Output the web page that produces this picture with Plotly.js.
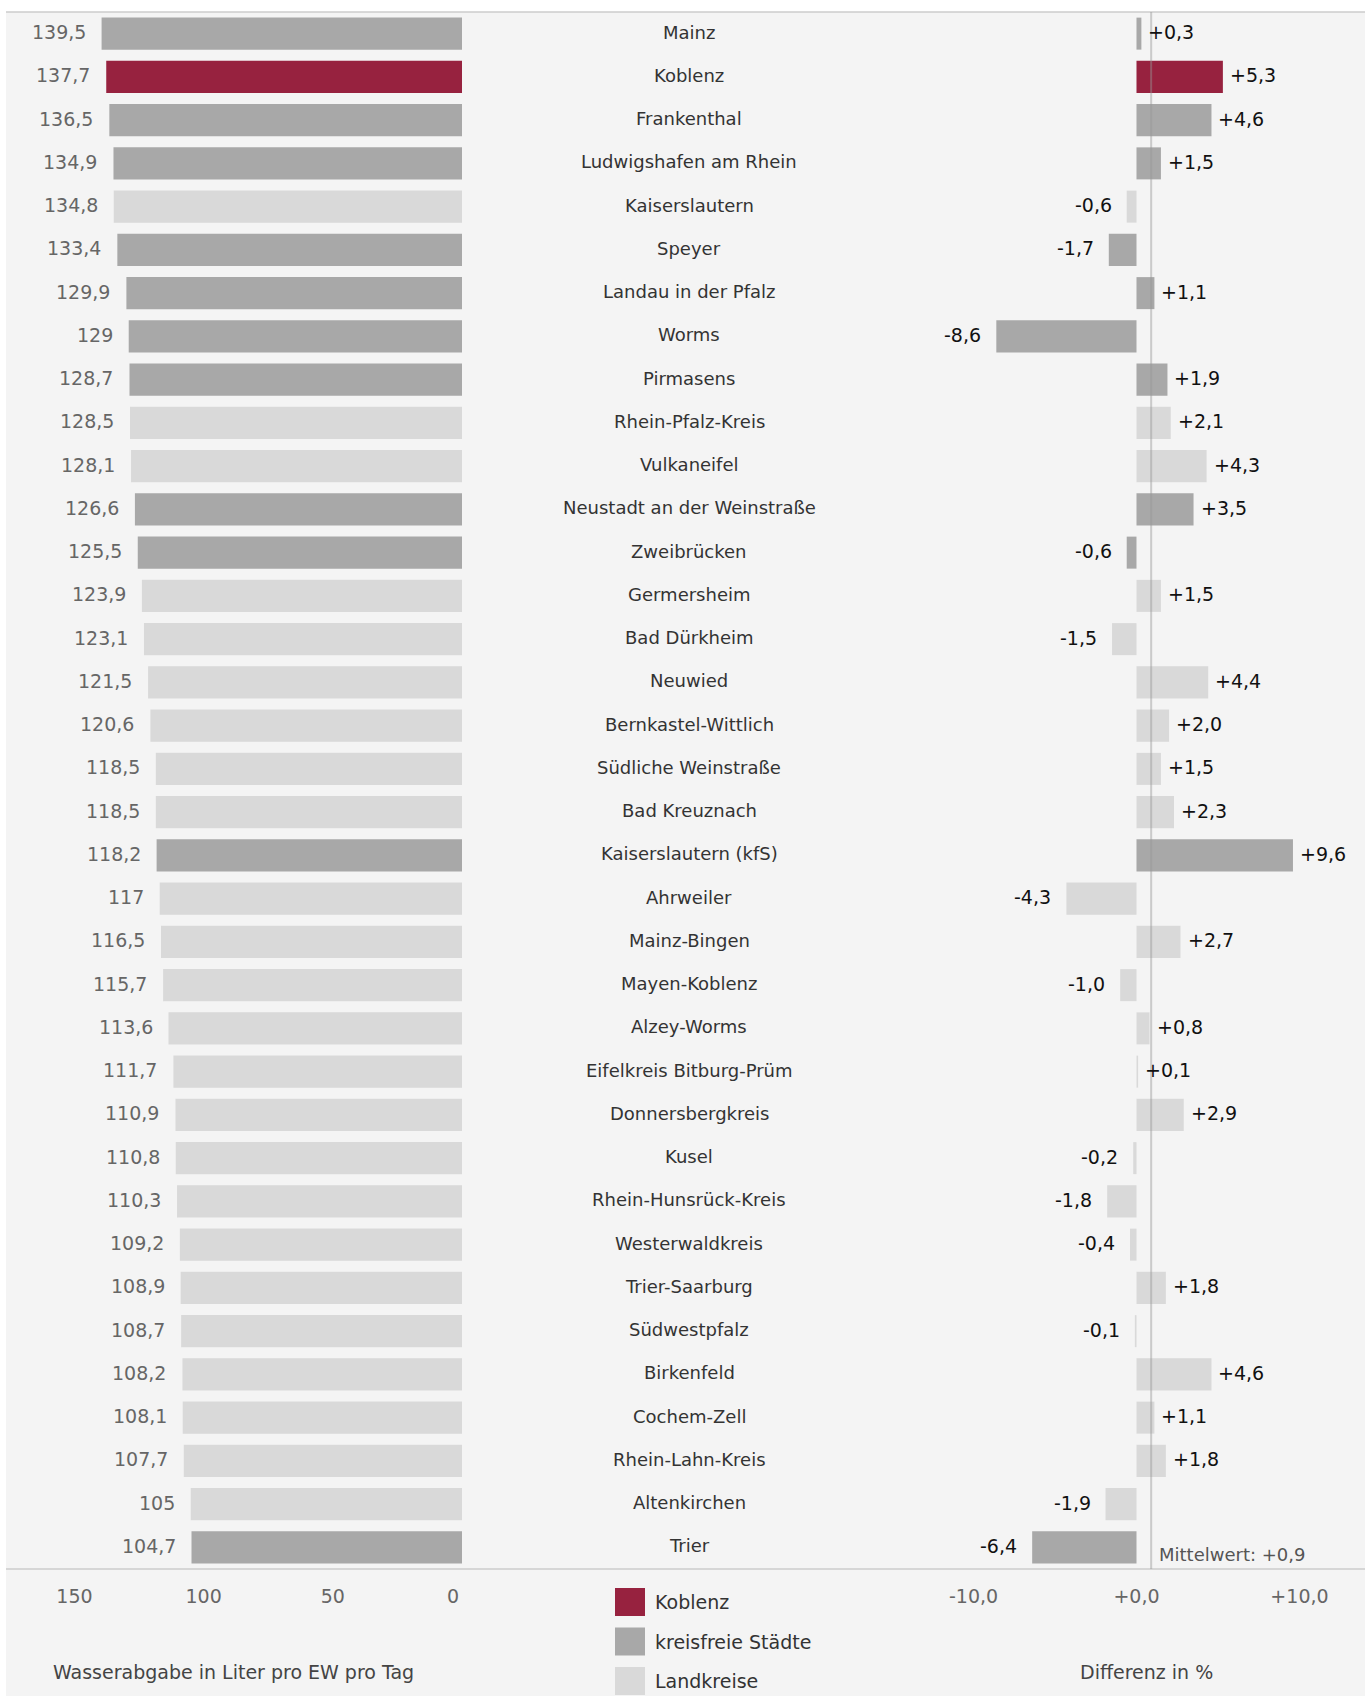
<!DOCTYPE html>
<html>
<head>
<meta charset="utf-8">
<script src="https://cdn.plot.ly/plotly-3.0.1.min.js"></script>
<style>
  html, body { margin: 0; padding: 0; background: #ffffff; }
  #chart { width: 1365px; height: 1696px; }
</style>
</head>
<body>
<div id="chart"></div>
<script>
// ---------------- DATA ----------------
const regions = [
  "Mainz", "Koblenz", "Frankenthal", "Ludwigshafen am Rhein", "Kaiserslautern",
  "Speyer", "Landau in der Pfalz", "Worms", "Pirmasens", "Rhein-Pfalz-Kreis",
  "Vulkaneifel", "Neustadt an der Weinstraße", "Zweibrücken", "Germersheim", "Bad Dürkheim",
  "Neuwied", "Bernkastel-Wittlich", "Südliche Weinstraße", "Bad Kreuznach", "Kaiserslautern (kfS)",
  "Ahrweiler", "Mainz-Bingen", "Mayen-Koblenz", "Alzey-Worms", "Eifelkreis Bitburg-Prüm",
  "Donnersbergkreis", "Kusel", "Rhein-Hunsrück-Kreis", "Westerwaldkreis", "Trier-Saarburg",
  "Südwestpfalz", "Birkenfeld", "Cochem-Zell", "Rhein-Lahn-Kreis", "Altenkirchen", "Trier"
];
const usage = [
  139.5, 137.7, 136.5, 134.9, 134.8,
  133.4, 129.9, 129, 128.7, 128.5,
  128.1, 126.6, 125.5, 123.9, 123.1,
  121.5, 120.6, 118.5, 118.5, 118.2,
  117, 116.5, 115.7, 113.6, 111.7,
  110.9, 110.8, 110.3, 109.2, 108.9,
  108.7, 108.2, 108.1, 107.7, 105, 104.7
];
const change = [
  0.3, 5.3, 4.6, 1.5, -0.6,
  -1.7, 1.1, -8.6, 1.9, 2.1,
  4.3, 3.5, -0.6, 1.5, -1.5,
  4.4, 2.0, 1.5, 2.3, 9.6,
  -4.3, 2.7, -1.0, 0.8, 0.1,
  2.9, -0.2, -1.8, -0.4, 1.8,
  -0.1, 4.6, 1.1, 1.8, -1.9, -6.4
];
// K = Koblenz, S = kreisfreie Stadt, L = Landkreis
const kind = [
  "S", "K", "S", "S", "L",
  "S", "S", "S", "S", "L",
  "L", "S", "S", "L", "L",
  "L", "L", "L", "L", "S",
  "L", "L", "L", "L", "L",
  "L", "L", "L", "L", "L",
  "L", "L", "L", "L", "L", "S"
];
const meanChange = 0.9;
const leftTickVals = [150, 100, 50, 0];
const leftTickText = ["150", "100", "50", "0&nbsp;&nbsp;&nbsp;"];
const rightTickVals = [-10, 0, 10];
const rightTickText = ["-10,0", "+0,0", "+10,0"];
const legendKinds = ["K", "S", "L"];
const legendLabels = ["Koblenz", "kreisfreie Städte", "Landkreise"];
const leftTitle = "Wasserabgabe in Liter pro EW pro Tag";
const rightTitle = "Differenz in %";

// ---------------- STYLE ----------------
const colorOf = { K: "#97223f", S: "#a8a8a8", L: "#d9d9d9" };
const W = 1365, H = 1696;
const px = x => x / W;
const py = y => 1 - y / H;
const FONT = "DejaVu Sans, Liberation Sans, Arial, sans-serif";

const fmtUsage = v => Number.isInteger(v) ? String(v) : v.toFixed(1).replace(".", ",");
const fmtChange = v => (v >= 0 ? "+" : "-") + Math.abs(v).toFixed(1).replace(".", ",");

const colors = kind.map(k => colorOf[k]);

const traces = [
  {
    type: "bar", orientation: "h", x: usage, y: regions,
    xaxis: "x", yaxis: "y",
    marker: { color: colors, line: { width: 0 } },
    hoverinfo: "skip", showlegend: false
  },
  {
    type: "bar", orientation: "h", x: change, y: regions,
    xaxis: "x2", yaxis: "y",
    marker: { color: colors, line: { width: 0 } },
    hoverinfo: "skip", showlegend: false
  }
];

const annotations = [];
const YS = 1.5;
regions.forEach((r, i) => {
  // category names in the middle
  annotations.push({
    xref: "paper", yref: "y", x: px(689), y: r, text: r, showarrow: false,
    xanchor: "center", yanchor: "middle", yshift: YS,
    font: { family: FONT, size: 18, color: "#333333" }
  });
  // usage values
  annotations.push({
    xref: "x", yref: "y", x: usage[i], y: r, text: fmtUsage(usage[i]), showarrow: false,
    xanchor: "right", yanchor: "middle", xshift: -14, yshift: YS,
    font: { family: FONT, size: 19, color: "#666666" }
  });
  // change values
  const pos = change[i] >= 0;
  annotations.push({
    xref: "x2", yref: "y", x: change[i], y: r, text: fmtChange(change[i]), showarrow: false,
    xanchor: pos ? "left" : "right", yanchor: "middle", xshift: pos ? 5 : -13, yshift: YS,
    font: { family: FONT, size: 19, color: "#111111" }
  });
});
annotations.push({
  xref: "x2", yref: "y", x: meanChange, y: regions[regions.length - 1],
  text: "Mittelwert: " + fmtChange(meanChange), showarrow: false,
  xanchor: "left", yanchor: "middle", xshift: 6, yshift: -7,
  font: { family: FONT, size: 18, color: "#555555" }
});
annotations.push({
  xref: "paper", yref: "paper", x: px(233), y: py(1672), text: leftTitle, showarrow: false,
  xanchor: "center", yanchor: "middle",
  font: { family: FONT, size: 19, color: "#444444" }
});
annotations.push({
  xref: "paper", yref: "paper", x: px(1146), y: py(1672), text: rightTitle, showarrow: false,
  xanchor: "center", yanchor: "middle",
  font: { family: FONT, size: 19, color: "#444444" }
});

const shapes = [
  { type: "rect", xref: "paper", yref: "paper", x0: px(6), x1: 1, y0: 0, y1: py(12),
    fillcolor: "#f4f4f4", line: { width: 0 }, layer: "below" },
  { type: "line", xref: "paper", yref: "paper", x0: px(6), x1: 1, y0: py(12), y1: py(12),
    line: { color: "#cccccc", width: 1.6 }, layer: "below" },
  { type: "line", xref: "paper", yref: "paper", x0: px(6), x1: 1, y0: py(1569), y1: py(1569),
    line: { color: "#cccccc", width: 1.6 }, layer: "below" },
  { type: "line", xref: "x2", yref: "paper", x0: meanChange, x1: meanChange, y0: py(1569), y1: py(12),
    line: { color: "rgba(150,150,150,0.45)", width: 2 }, layer: "above" }
];

legendKinds.forEach((k, i) => {
  const top = 1588 + i * 39.5;
  shapes.push({
    type: "rect", xref: "paper", yref: "paper",
    x0: px(615), x1: px(645), y0: py(top + 28), y1: py(top),
    fillcolor: colorOf[k], line: { width: 0 }, layer: "above"
  });
  annotations.push({
    xref: "paper", yref: "paper", x: px(653), y: py(top + 14), text: legendLabels[i],
    showarrow: false, xanchor: "left", yanchor: "middle",
    font: { family: FONT, size: 19, color: "#333333" }
  });
});

const layout = {
  width: W, height: H,
  margin: { l: 0, r: 0, t: 0, b: 0, pad: 0 },
  paper_bgcolor: "#ffffff",
  plot_bgcolor: "rgba(0,0,0,0)",
  bargap: 0.26,
  showlegend: false,
  font: { family: FONT, size: 18, color: "#333333" },
  xaxis: {
    domain: [px(6), px(462)], range: [176.5, 0], anchor: "y",
    showgrid: false, zeroline: false, showline: false, ticks: "",
    tickmode: "array", tickvals: leftTickVals, ticktext: leftTickText,
    ticklabelstandoff: 14,
    tickfont: { family: FONT, size: 19, color: "#666666" },
    fixedrange: true
  },
  xaxis2: {
    domain: [px(900), 1], range: [-14.51, 14.02], anchor: "y",
    showgrid: false, zeroline: false, showline: false, ticks: "",
    tickmode: "array", tickvals: rightTickVals, ticktext: rightTickText,
    ticklabelstandoff: 14,
    tickfont: { family: FONT, size: 19, color: "#666666" },
    fixedrange: true
  },
  yaxis: {
    domain: [py(1569), py(12)], type: "category",
    categoryorder: "array", categoryarray: regions,
    range: [regions.length - 0.5, -0.5],
    showgrid: false, zeroline: false, showline: false, showticklabels: false, ticks: "",
    fixedrange: true
  },
  annotations: annotations,
  shapes: shapes
};

Plotly.newPlot("chart", traces, layout, { staticPlot: true, displayModeBar: false });
</script>
</body>
</html>
